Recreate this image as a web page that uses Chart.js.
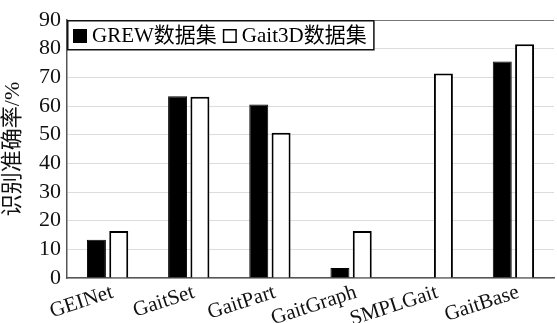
<!DOCTYPE html>
<html>
<head>
<meta charset="utf-8">
<script src="https://cdn.jsdelivr.net/npm/chart.js@4.4.0/dist/chart.umd.min.js"></script>
<style>
  html, body { margin: 0; padding: 0; background: #fff; }
  #wrap { width: 557px; height: 323px; }
</style>
</head>
<body>
<div id="wrap"><canvas id="accChart" width="557" height="323"></canvas></div>
<script>
const methods = ["GEINet", "GaitSet", "GaitPart", "GaitGraph", "SMPLGait", "GaitBase"];
const grewAcc = [13.3, 63.4, 60.5, 3.5, null, 75.5];
const gait3dAcc = [16.4, 63.2, 50.7, 16.4, 71.3, 81.5];
const seriesNames = ["GREW数据集", "Gait3D数据集"];
const yTicks = [0, 10, 20, 30, 40, 50, 60, 70, 80, 90];

const serif = "'Liberation Serif', 'Noto Sans CJK SC', serif";

// legend box drawn inside plot, top-left, plus frame on top
const boxLegend = {
  id: "boxLegend",
  afterDraw(chart) {
    const ctx = chart.ctx;
    const area = chart.chartArea;
    ctx.save();
    ctx.strokeStyle = "#777";
    ctx.lineWidth = 1;
    ctx.beginPath();
    ctx.moveTo(area.left, area.top + 0.5);
    ctx.lineTo(area.right, area.top + 0.5);
    ctx.stroke();

    const x0 = area.left, y0 = area.top;
    ctx.font = "21px " + serif;
    ctx.textBaseline = "middle";
    let x = x0 + 6;
    const midY = y0 + 16;
    const w1 = ctx.measureText(seriesNames[0]).width;
    const w2 = ctx.measureText(seriesNames[1]).width;
    const boxW = 6 + 14 + 5 + w1 + 6 + 14 + 5 + w2 + 8;
    ctx.fillStyle = "#fff";
    ctx.fillRect(x0, y0, boxW, 30);
    ctx.strokeStyle = "#111";
    ctx.lineWidth = 1.5;
    ctx.strokeRect(x0 + 0.75, y0 + 0.75, boxW - 1.5, 29);

    ctx.fillStyle = "#000";
    ctx.fillRect(x, midY - 7, 14, 14);
    x += 19;
    ctx.fillText(seriesNames[0], x, midY);
    x += w1 + 6;
    ctx.strokeStyle = "#000";
    ctx.lineWidth = 1.5;
    ctx.strokeRect(x + 0.75, midY - 6.25, 12.5, 12.5);
    x += 19;
    ctx.fillStyle = "#000";
    ctx.fillText(seriesNames[1], x, midY);
    ctx.restore();
  }
};

new Chart(document.getElementById("accChart").getContext("2d"), {
  type: "bar",
  data: {
    labels: methods,
    datasets: [
      {
        label: seriesNames[0],
        data: grewAcc,
        backgroundColor: "#000",
        borderColor: "#000",
        borderWidth: 1,
        barPercentage: 0.85,
        categoryPercentage: 0.55
      },
      {
        label: seriesNames[1],
        data: gait3dAcc,
        backgroundColor: "#fff",
        borderColor: "#000",
        borderWidth: 2,
        barPercentage: 0.85,
        categoryPercentage: 0.55
      }
    ]
  },
  options: {
    responsive: false,
    animation: false,
    layout: { padding: { top: 20, right: 3, left: 0, bottom: 0 } },
    plugins: {
      legend: { display: false },
      tooltip: { enabled: false }
    },
    scales: {
      x: {
        grid: { display: false, drawTicks: false },
        border: { color: "#555", width: 1.5 },
        ticks: {
          color: "#111",
          font: { family: serif, size: 21 },
          minRotation: 18,
          maxRotation: 18,
          autoSkip: false,
          labelOffset: 5,
          padding: 2
        },
        afterFit(scale) { scale.height = 45; }
      },
      y: {
        min: 0,
        max: 90,
        afterBuildTicks(scale) { scale.ticks = yTicks.map(v => ({ value: v })); },
        grid: { color: "#ddd", lineWidth: 1, drawTicks: false },
        border: { color: "#555", width: 1.5 },
        ticks: {
          color: "#111",
          font: { family: serif, size: 22 },
          padding: 6,
          autoSkip: false
        },
        title: {
          display: true,
          text: "识别准确率/%",
          color: "#111",
          font: { family: serif, size: 22 },
          padding: { top: 0, bottom: 2 }
        },
        afterFit(scale) { scale.width = 67; }
      }
    }
  },
  plugins: [boxLegend]
});
</script>
</body>
</html>
